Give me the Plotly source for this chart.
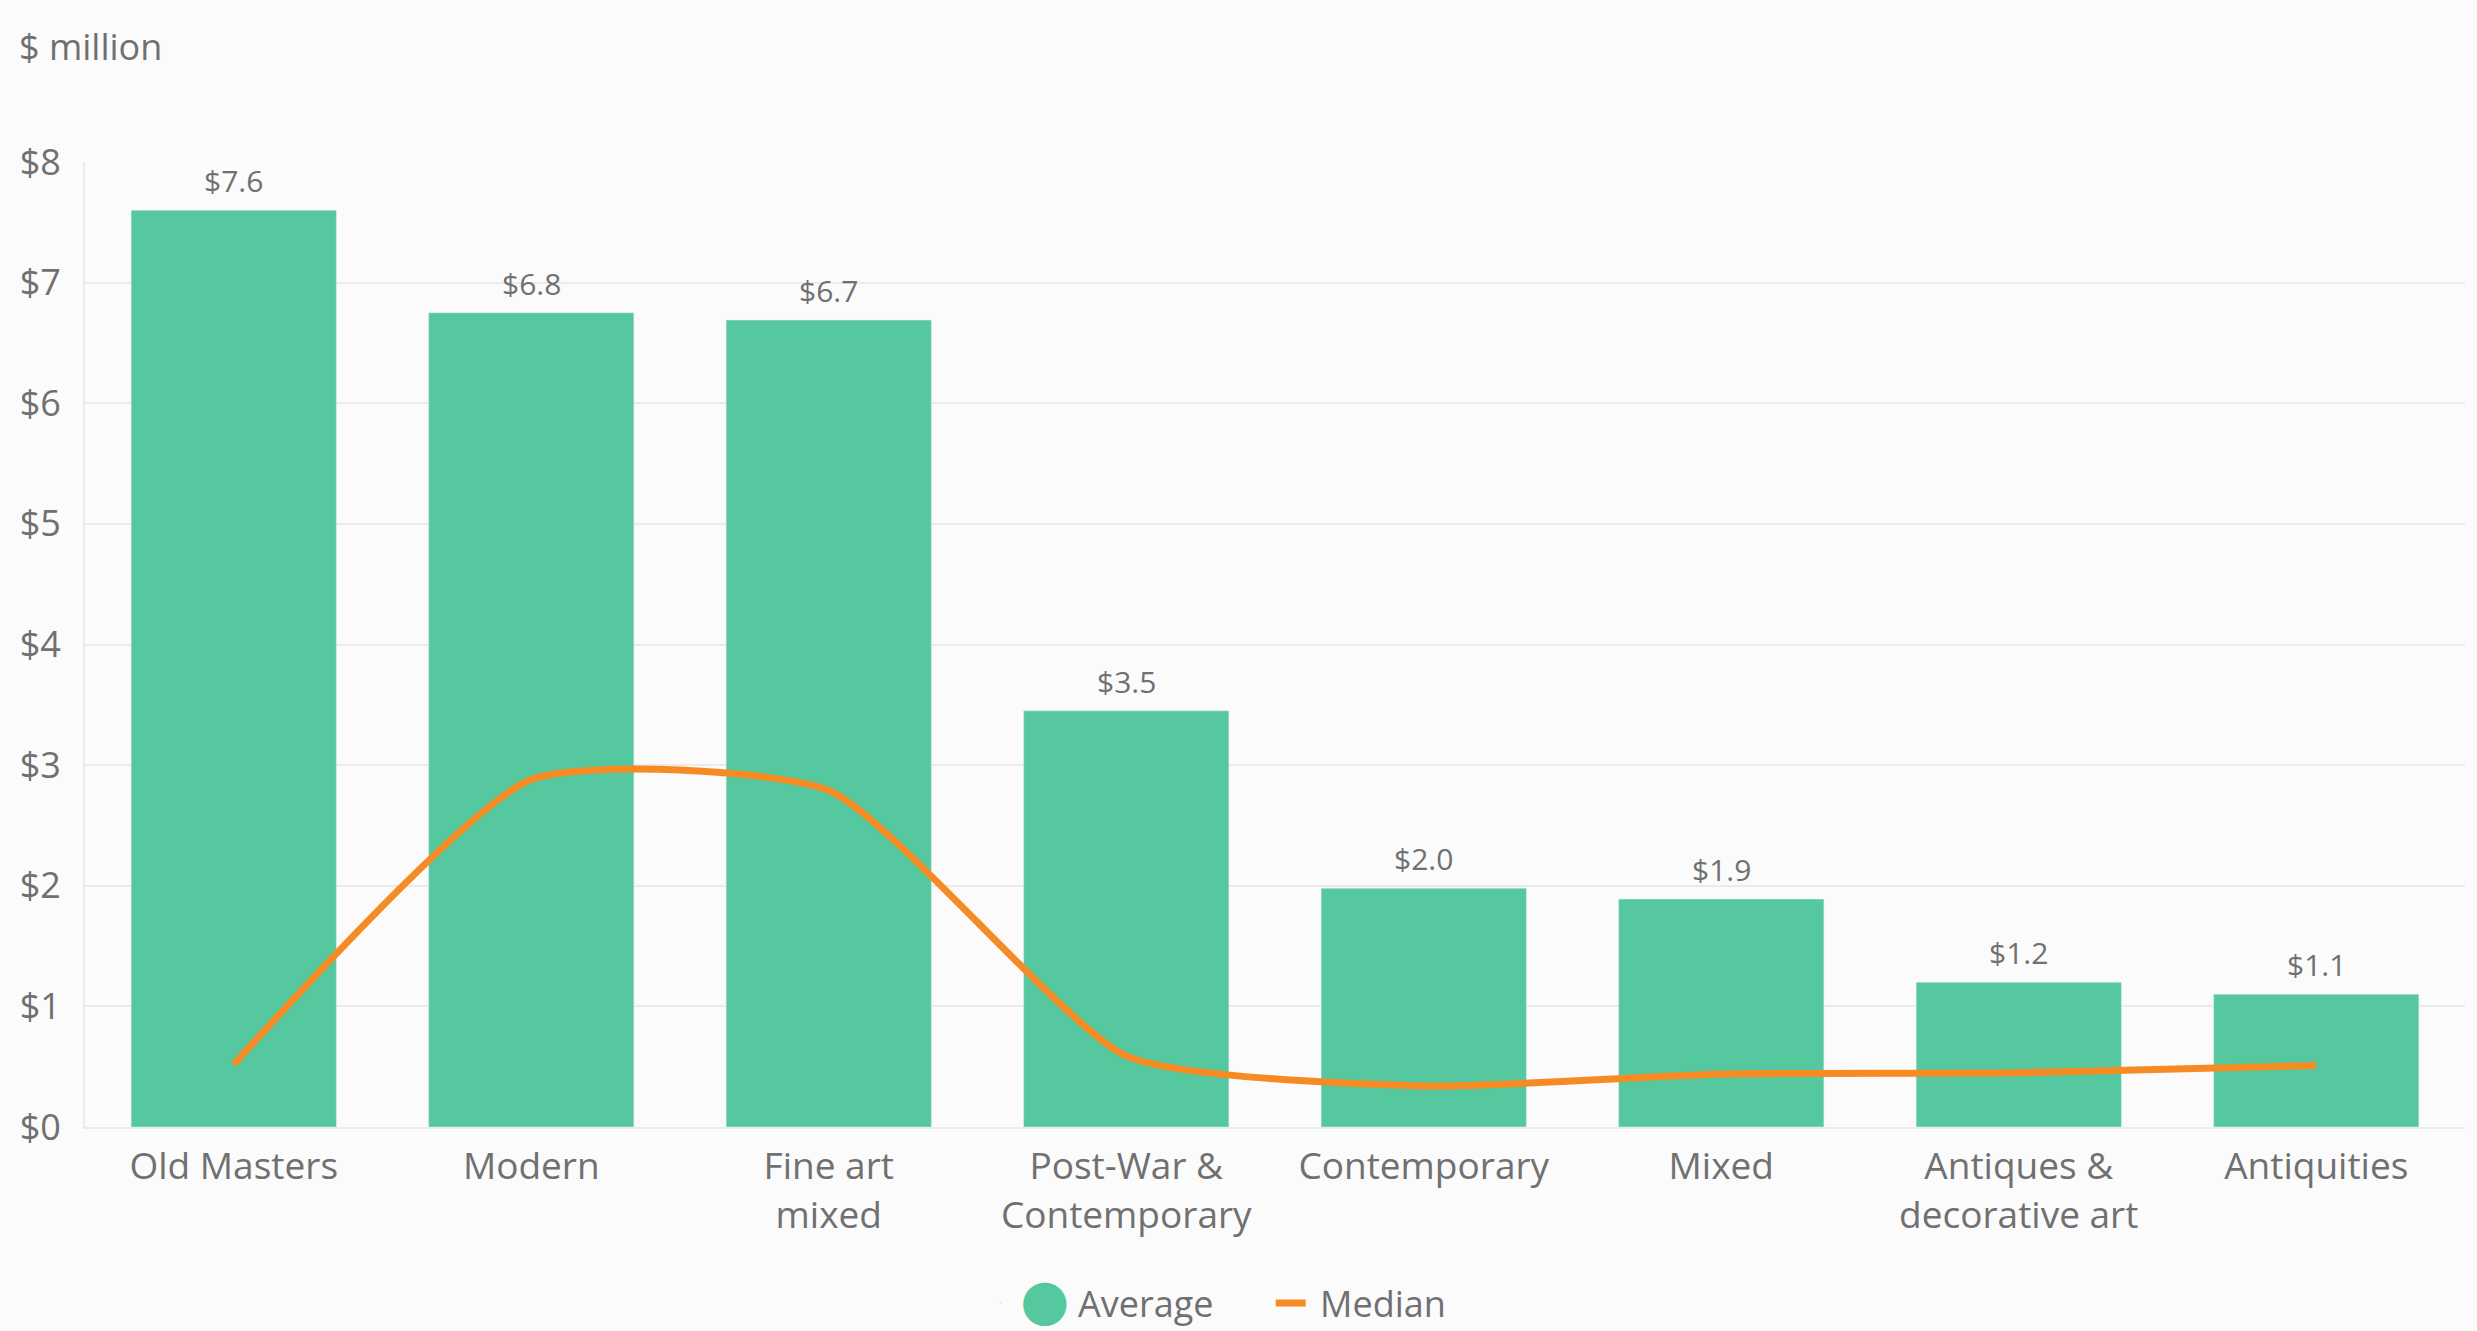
import plotly.graph_objects as go

categories = ["Old Masters", "Modern", "Fine art<br>mixed", "Post-War &<br>Contemporary",
              "Contemporary", "Mixed", "Antiques &<br>decorative art", "Antiquities"]
average = [7.6, 6.75, 6.69, 3.45, 1.98, 1.89, 1.2, 1.1]
average_labels = ["$7.6", "$6.8", "$6.7", "$3.5", "$2.0", "$1.9", "$1.2", "$1.1"]
median = [0.52, 2.88, 2.79, 0.59, 0.34, 0.44, 0.45, 0.51]
y_ticks = [0, 1, 2, 3, 4, 5, 6, 7, 8]
y_tick_labels = ["$0", "$1", "$2", "$3", "$4", "$5", "$6", "$7", "$8"]

GREEN = "#56C8A0"
ORANGE = "#F68B23"
TEXT = "#707070"
FONT = "Open Sans"

fig = go.Figure()
fig.add_trace(go.Bar(
    x=categories, y=average, name="Average", marker_color=GREEN, showlegend=False,
))
fig.add_trace(go.Scatter(
    x=[None], y=[None], mode="markers",
    name=('<span style="color:' + GREEN + ";font-family:'Noto Sans CJK SC';"
          'font-size:48px;baseline-shift:-5px">●</span> Average'),
    marker=dict(color=GREEN, size=1, opacity=0), showlegend=True,
))
fig.add_trace(go.Scatter(
    x=categories, y=median, name=" Median", mode="lines",
    line=dict(color=ORANGE, width=7, shape="spline", smoothing=0.55),
))

annotations = [dict(x=c, y=v, text=t, xref="x", yref="y", showarrow=False,
                    yanchor="bottom", yshift=7, font=dict(size=30, color=TEXT, family=FONT))
               for c, v, t in zip(categories, average, average_labels)]
annotations.append(dict(text="$ million", xref="paper", yref="paper", x=-0.0286, y=1.12,
                        xanchor="left", yanchor="middle", showarrow=False,
                        font=dict(size=36, color=TEXT)))

fig.update_layout(
    width=2477, height=1331,
    margin=dict(l=85, r=12, t=162, b=204),
    paper_bgcolor="#FBFBFB", plot_bgcolor="#FBFBFB",
    font=dict(family=FONT, color=TEXT, size=36),
    bargap=0.31,
    legend=dict(orientation="h", xref="container", yref="container",
                x=0.513, xanchor="center", y=0.021, yanchor="middle",
                font=dict(size=36, color=TEXT), bgcolor="rgba(0,0,0,0)",
                entrywidth=245, entrywidthmode="pixels"),
    annotations=annotations,
)
fig.update_xaxes(showgrid=False, showline=True, linecolor="#EBEBEB", linewidth=2,
                 tickfont=dict(size=37, color=TEXT), ticks="", ticklabelstandoff=6)
fig.update_yaxes(range=[0, 8], tickvals=y_ticks, ticktext=y_tick_labels,
                 showgrid=True, gridcolor="#EBEBEB", gridwidth=2,
                 showline=True, linecolor="#EBEBEB", linewidth=2, zeroline=False,
                 tickfont=dict(size=36, color=TEXT), ticklabelstandoff=15)

fig.write_html("out.html", config={"displayModeBar": False},
               post_script="document.body.style.margin='0';")
